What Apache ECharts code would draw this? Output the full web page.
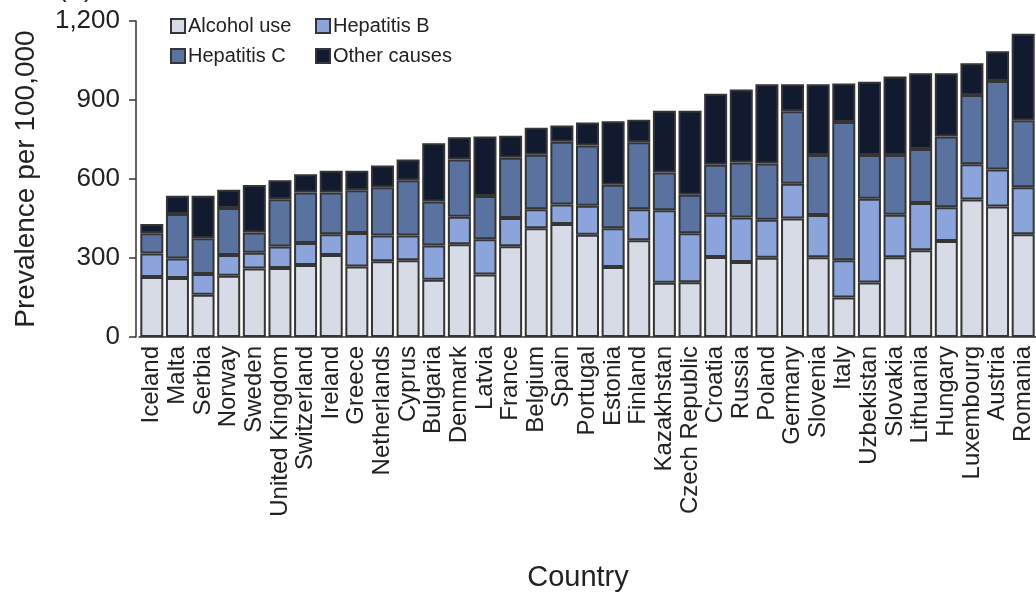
<!DOCTYPE html>
<html>
<head>
<meta charset="utf-8">
<script src="https://cdn.jsdelivr.net/npm/echarts@6/dist/echarts.min.js"></script>
<style>
  html, body { margin: 0; padding: 0; background: #ffffff; }
  #chart { width: 1036px; height: 592px; }
</style>
</head>
<body>
<div id="chart"></div>
<script>
const countries = ["Iceland","Malta","Serbia","Norway","Sweden","United Kingdom","Switzerland","Ireland","Greece","Netherlands","Cyprus","Bulgaria","Denmark","Latvia","France","Belgium","Spain","Portugal","Estonia","Finland","Kazakhstan","Czech Republic","Croatia","Russia","Poland","Germany","Slovenia","Italy","Uzbekistan","Slovakia","Lithuania","Hungary","Luxembourg","Austria","Romania"];
const alcoholUse = [228,224,160,233,260,262,273,311,268,288,291,217,352,237,345,413,429,388,266,367,206,208,304,285,301,450,303,150,207,303,329,365,522,496,390];
const hepatitisB = [89,74,79,78,60,82,84,79,127,97,94,130,105,134,107,72,74,110,147,118,275,186,160,169,144,132,160,141,318,161,180,128,134,140,179];
const hepatitisC = [77,169,136,179,77,179,192,159,162,184,210,168,217,164,229,207,238,229,165,255,144,146,190,209,214,275,228,525,166,227,205,268,263,336,254];
const otherCauses = [35,69,161,69,180,72,69,82,74,82,79,221,85,226,83,103,62,88,241,85,234,319,270,277,301,103,269,147,278,298,288,241,121,113,329];
const yTicks = [0, 300, 600, 900, 1200];

const seriesNames = ["Alcohol use", "Hepatitis B", "Hepatitis C", "Other causes"];
const seriesData = [alcoholUse, hepatitisB, hepatitisC, otherCauses];
const colors = ["#d7dbe6", "#8ba4dc", "#5a72a0", "#121a30"];
const borderCol = "#353535";
const FONT = "'Liberation Sans', Arial, Helvetica, sans-serif";

const chart = echarts.init(document.getElementById('chart'), null, {renderer: 'canvas'});

const legendPos = [
  {left: 170, top: 16},
  {left: 315, top: 16},
  {left: 170, top: 46},
  {left: 315, top: 46}
];

const option = {
  backgroundColor: '#ffffff',
  animation: false,
  textStyle: { fontFamily: FONT },
  grid: { left: 139, top: 21, width: 901, height: 316 },
  legend: seriesNames.map((n, i) => ({
    data: [n],
    left: legendPos[i].left,
    top: legendPos[i].top,
    padding: 0,
    itemWidth: 14,
    itemHeight: 14,
    itemGap: 0,
    icon: 'rect',
    selectedMode: false,
    textStyle: { fontSize: 20, color: '#222', fontFamily: FONT, padding: [0, 0, 0, -2] }
  })),
  xAxis: {
    type: 'category',
    data: countries,
    axisLine: { show: true, lineStyle: { color: '#333', width: 1.5 } },
    axisTick: { show: false },
    axisLabel: {
      interval: 0,
      rotate: 90,
      fontSize: 24,
      color: '#222',
      margin: 9,
      fontFamily: FONT
    }
  },
  yAxis: {
    type: 'value',
    min: yTicks[0],
    max: yTicks[yTicks.length - 1],
    interval: 300,
    offset: 3,
    name: 'Prevalence per 100,000',
    nameLocation: 'middle',
    nameRotate: 90,
    nameGap: 96,
    nameTextStyle: { fontSize: 28, color: '#222', fontFamily: FONT },
    splitLine: { show: false },
    axisLine: { show: true, lineStyle: { color: '#333', width: 1.5 } },
    axisTick: { show: true, inside: false, length: 7, lineStyle: { color: '#333', width: 1.5 } },
    axisLabel: {
      fontSize: 26,
      color: '#222',
      margin: 16,
      fontFamily: FONT,
      formatter: v => v.toLocaleString('en-US')
    }
  },
  series: seriesNames.map((n, i) => ({
    name: n,
    type: 'bar',
    stack: 'total',
    data: seriesData[i],
    barWidth: 23,
    itemStyle: { color: colors[i], borderColor: borderCol, borderWidth: 2 }
  })),
  graphic: [
    {
      type: 'text',
      left: 58,
      top: -23,
      style: { text: '(A)', font: "26px " + FONT, fill: '#222' }
    },
    {
      type: 'text',
      x: 578,
      y: 578,
      style: { text: 'Country', font: "29px " + FONT, fill: '#222', textAlign: 'center', textVerticalAlign: 'middle' }
    }
  ]
};

chart.setOption(option);
</script>
</body>
</html>
